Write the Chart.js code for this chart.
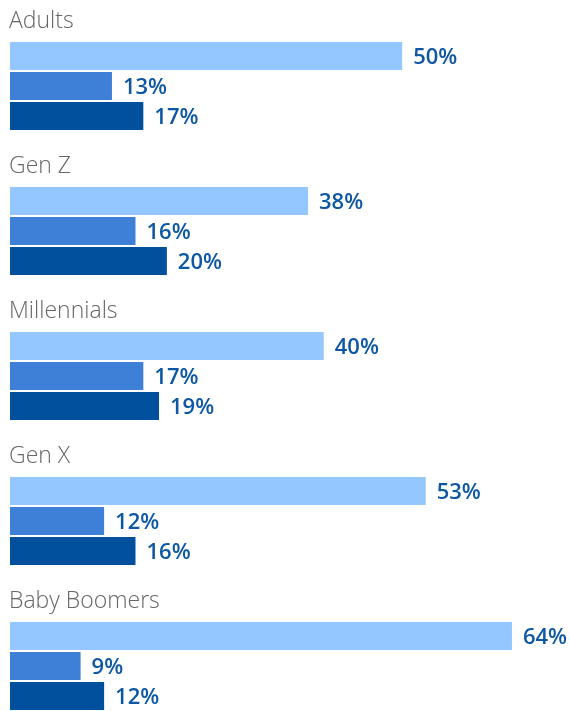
<!DOCTYPE html>
<html>
<head>
<meta charset="utf-8">
<script src="https://cdn.jsdelivr.net/npm/chart.js@4.4.0/dist/chart.umd.min.js"></script>
<style>
  html, body { margin: 0; padding: 0; background: #fff; }
  #wrap { width: 570px; height: 711px; position: relative; }
</style>
</head>
<body>
<div id="wrap"><canvas id="myChart"></canvas></div>
<script>
const categories = ['Adults', 'Gen Z', 'Millennials', 'Gen X', 'Baby Boomers'];
const seriesA = [50, 38, 40, 53, 64];
const seriesB = [13, 16, 17, 12, 9];
const seriesC = [17, 20, 19, 16, 12];
const barColors = ['#94c6ff', '#3e7fd7', '#00509e'];

// group titles above each block of bars
const groupTitles = {
    id: 'groupTitles',
    afterDraw(chart) {
        const ctx = chart.ctx;
        const y = chart.scales.y;
        ctx.save();
        ctx.font = '300 23px "Open Sans"';
        ctx.fillStyle = '#666666';
        ctx.textAlign = 'left';
        ctx.textBaseline = 'middle';
        categories.forEach((c, i) => {
            ctx.fillText(c, 9, y.getPixelForValue(i) - 65);
        });
        ctx.restore();
    }
};

// value labels at the end of each bar
const valueLabels = {
    id: 'valueLabels',
    afterDatasetsDraw(chart) {
        const ctx = chart.ctx;
        ctx.save();
        ctx.font = '600 22px "Open Sans"';
        ctx.fillStyle = '#0d57a3';
        ctx.textAlign = 'left';
        ctx.textBaseline = 'middle';
        chart.data.datasets.forEach((ds, di) => {
            chart.getDatasetMeta(di).data.forEach((bar, i) => {
                ctx.fillText(ds.data[i] + '%', bar.x + 11, bar.y + 2);
            });
        });
        ctx.restore();
    }
};

const ctx = document.getElementById('myChart').getContext('2d');
const myChart = new Chart(ctx, {
    type: 'bar',
    data: {
        labels: categories,
        datasets: [
            { data: seriesA, backgroundColor: barColors[0] },
            { data: seriesB, backgroundColor: barColors[1] },
            { data: seriesC, backgroundColor: barColors[2] }
        ]
    },
    options: {
        indexAxis: 'y',
        responsive: true,
        maintainAspectRatio: false,
        animation: false,
        categoryPercentage: 90 / 145,
        barPercentage: 28 / 30,
        clip: false,
        layout: { padding: { left: 10, right: 0, top: 86, bottom: 45 } },
        scales: {
            x: { display: false, min: 0, max: 71.4 },
            y: { display: false, offset: false }
        },
        plugins: {
            legend: { display: false },
            tooltip: { enabled: false }
        }
    },
    plugins: [groupTitles, valueLabels]
});
</script>
</body>
</html>
